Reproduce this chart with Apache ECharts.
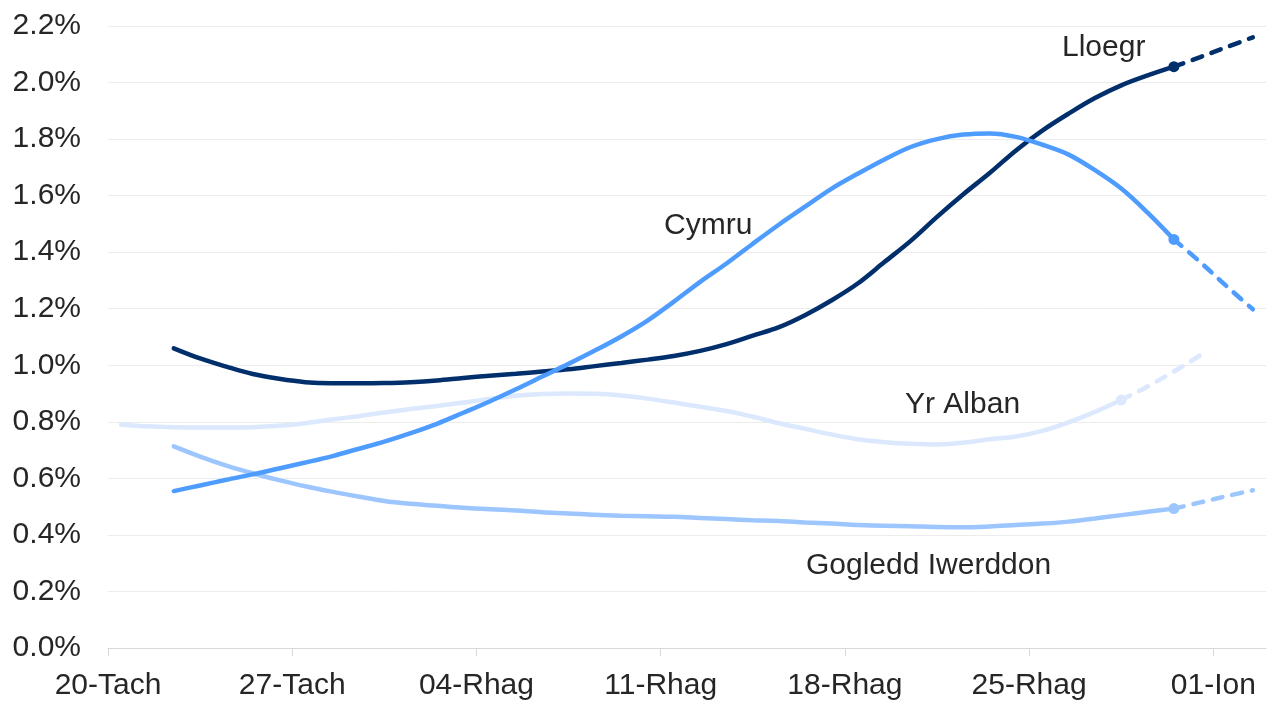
<!DOCTYPE html>
<html><head><meta charset="utf-8">
<script src="https://cdn.jsdelivr.net/npm/echarts@6/dist/echarts.min.js"></script>
<style>html,body{margin:0;padding:0;background:#fff}#chart{width:1271px;height:701px}</style>
</head><body><div id="chart"></div>
<script>
// One category per day, 20 Nov .. 02 Jan
const days = ['20-Tach','21-Tach','22-Tach','23-Tach','24-Tach','25-Tach','26-Tach','27-Tach','28-Tach','29-Tach','30-Tach',
  '01-Rhag','02-Rhag','03-Rhag','04-Rhag','05-Rhag','06-Rhag','07-Rhag','08-Rhag','09-Rhag','10-Rhag',
  '11-Rhag','12-Rhag','13-Rhag','14-Rhag','15-Rhag','16-Rhag','17-Rhag','18-Rhag','19-Rhag','20-Rhag',
  '21-Rhag','22-Rhag','23-Rhag','24-Rhag','25-Rhag','26-Rhag','27-Rhag','28-Rhag','29-Rhag','30-Rhag','31-Rhag',
  '01-Ion','02-Ion'];
const tickLabels = ['20-Tach','27-Tach','04-Rhag','11-Rhag','18-Rhag','25-Rhag','01-Ion'];

// Values in % (index = day in `days`)
const lloegrActual = [null,null,1.06,1.024,0.995,0.969,0.952,0.94,0.936,0.936,0.937,0.94,0.946,0.955,0.963,0.97,0.978,0.986,0.997,1.008,1.02,1.033,1.051,1.075,1.105,1.135,1.178,1.23,1.29,1.365,1.44,1.525,1.605,1.68,1.76,1.83,1.89,1.945,1.99,2.025,2.056];
const lloegrProj = [null,null,null,null,null,null,null,null,null,null,null,null,null,null,null,null,null,null,null,null,null,null,null,null,null,null,null,null,null,null,null,null,null,null,null,null,null,null,null,null,2.056,2.09,2.125,2.16];

const cymruActual = [null,null,0.555,0.575,0.595,0.614,0.635,0.656,0.678,0.704,0.73,0.76,0.793,0.832,0.872,0.915,0.96,1.005,1.052,1.102,1.158,1.225,1.295,1.36,1.43,1.498,1.562,1.625,1.678,1.728,1.772,1.80,1.816,1.82,1.808,1.78,1.745,1.69,1.625,1.54,1.445];
const cymruProj = [null,null,null,null,null,null,null,null,null,null,null,null,null,null,null,null,null,null,null,null,null,null,null,null,null,null,null,null,null,null,null,null,null,null,null,null,null,null,null,null,1.445,1.365,1.28,1.198];

const albanActual = [0.79,0.784,0.781,0.78,0.78,0.781,0.786,0.795,0.808,0.82,0.833,0.845,0.856,0.868,0.881,0.892,0.898,0.9,0.899,0.893,0.882,0.868,0.853,0.838,0.818,0.795,0.775,0.755,0.738,0.728,0.722,0.72,0.726,0.738,0.748,0.768,0.798,0.835,0.877];
const albanProj = [null,null,null,null,null,null,null,null,null,null,null,null,null,null,null,null,null,null,null,null,null,null,null,null,null,null,null,null,null,null,null,null,null,null,null,null,null,null,0.877,0.925,0.978,1.035];

const giActual = [null,null,0.713,0.677,0.645,0.618,0.594,0.572,0.553,0.536,0.52,0.51,0.503,0.496,0.491,0.486,0.48,0.476,0.471,0.468,0.466,0.464,0.46,0.456,0.452,0.449,0.444,0.44,0.435,0.432,0.431,0.428,0.427,0.43,0.435,0.44,0.447,0.458,0.47,0.482,0.493];
const giProj = [null,null,null,null,null,null,null,null,null,null,null,null,null,null,null,null,null,null,null,null,null,null,null,null,null,null,null,null,null,null,null,null,null,null,null,null,null,null,null,null,0.493,0.515,0.537,0.558];

const FONT = '"Liberation Sans", Arial, sans-serif';
const TXT = '#262626';

function toPoints(arr, markerFirst) {
  const out = [];
  let first = true;
  arr.forEach((v, i) => {
    if (v == null) return;
    const item = { value: [i + 0.5, v] };
    if (markerFirst && first) { item.symbol = 'circle'; item.symbolSize = 11; }
    first = false;
    out.push(item);
  });
  return out;
}
function pair(actual, proj, color, z) {
  return [
    { type: 'line', data: toPoints(actual, false), smooth: 0.35, symbol: 'none', z: z,
      lineStyle: { color: color, width: 4.5, cap: 'round' }, itemStyle: { color: color }, silent: true },
    { type: 'line', data: toPoints(proj, true), smooth: 0.35, symbol: 'none', showSymbol: true, z: z,
      lineStyle: { color: color, width: 4.5, type: [10, 10], cap: 'round' }, itemStyle: { color: color }, silent: true }
  ];
}

const tickValues = tickLabels.map(l => days.indexOf(l));

const chart = echarts.init(document.getElementById('chart'), null, { renderer: 'canvas' });
chart.setOption({
  animation: false,
  backgroundColor: '#ffffff',
  grid: { left: 108, right: 5, top: 26, bottom: 51 },
  xAxis: {
    type: 'value', min: 0, max: days.length,
    axisLine: { show: true, lineStyle: { color: '#d9d9d9', width: 1 } },
    axisTick: { show: true, customValues: tickValues, length: 8, lineStyle: { color: '#d9d9d9' } },
    axisLabel: { customValues: tickValues, formatter: v => days[v] || '', fontSize: 30, fontFamily: FONT, color: TXT, margin: 23 },
    splitLine: { show: false }
  },
  yAxis: {
    type: 'value', min: 0, max: 2.2, interval: 0.2,
    axisLine: { show: false }, axisTick: { show: false },
    splitLine: { show: true, lineStyle: { color: '#ececec', width: 1 } },
    axisLabel: { formatter: v => v.toFixed(1) + '%', fontSize: 30, fontFamily: FONT, color: TXT, margin: 27 }
  },
  series: [].concat(
    pair(albanActual, albanProj, '#dbe8fd', 2),
    pair(giActual, giProj, '#9dc6ff', 3),
    pair(lloegrActual, lloegrProj, '#002f6c', 4),
    pair(cymruActual, cymruProj, '#4f9cff', 5)
  ),
  graphic: [
    { type: 'text', left: 1062, top: 33, style: { text: 'Lloegr', font: '30px ' + FONT, fill: TXT } },
    { type: 'text', left: 664, top: 211, style: { text: 'Cymru', font: '30px ' + FONT, fill: TXT } },
    { type: 'text', left: 905, top: 390, style: { text: 'Yr Alban', font: '30px ' + FONT, fill: TXT } },
    { type: 'text', left: 806, top: 551, style: { text: 'Gogledd Iwerddon', font: '30px ' + FONT, fill: TXT } }
  ]
});
</script>
</body></html>
